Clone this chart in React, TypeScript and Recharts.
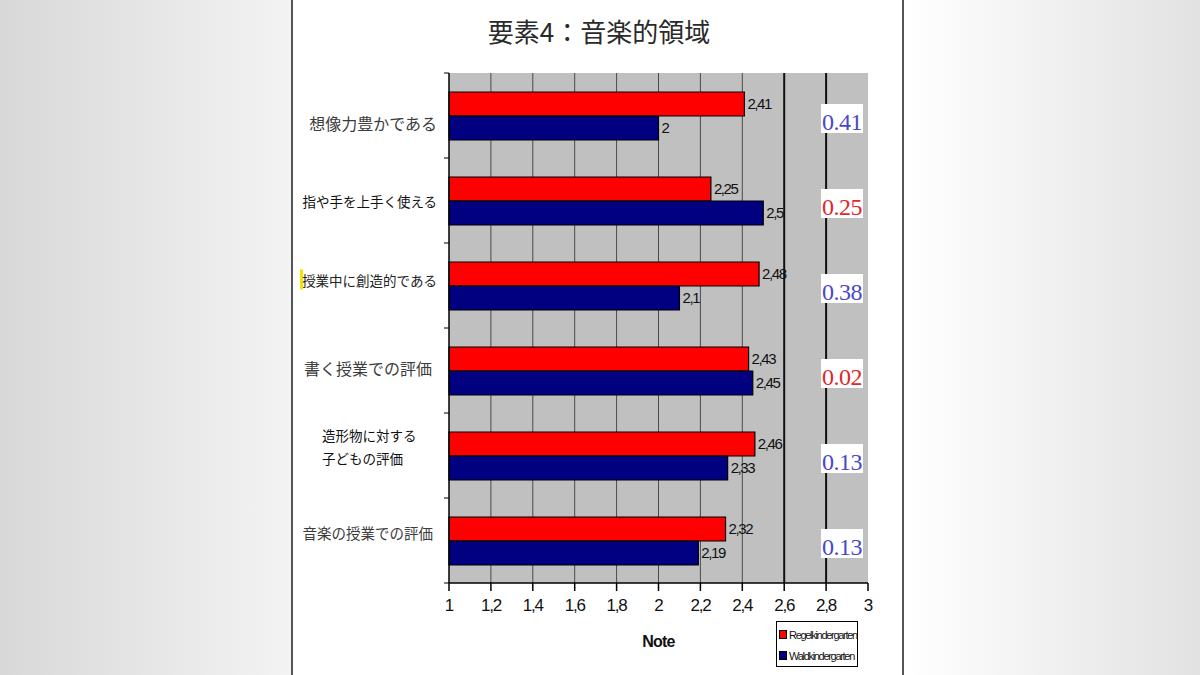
import { Bar, BarChart, CartesianGrid, LabelList, Legend, XAxis, YAxis, usePlotArea } from 'recharts';

// 要素4：音楽的領域 — Regelkindergarten vs Waldkindergarten
const categories = [
    '想像力豊かである',
    '指や手を上手く使える',
    '授業中に創造的である',
    '書く授業での評価',
    '造形物に対する\n子どもの評価',
    '音楽の授業での評価',
];
const regelValues = [2.41, 2.25, 2.48, 2.43, 2.46, 2.32];
const waldValues = [2, 2.5, 2.1, 2.45, 2.33, 2.19];
const diffValues = [0.41, 0.25, 0.38, 0.02, 0.13, 0.13];
const xTicks = [1, 1.2, 1.4, 1.6, 1.8, 2, 2.2, 2.4, 2.6, 2.8, 3];
const seriesNames = ['Regelkindergarten', 'Waldkindergarten'];
const seriesColors = ['#ff0000', '#000080'];

const data = categories.map((category, i) => ({
    category,
    regel: regelValues[i],
    wald: waldValues[i],
}));

// the slide labels were typed by hand, so each one sits a little differently
const labelLook = [
    { size: 16, color: '#3c3c3c', right: 12, dy: 7 },
    { size: 13.5, color: '#111', right: 12, dy: 0 },
    { size: 13.5, color: '#222', right: 12, dy: -6, marker: true },
    { size: 16, color: '#3c3c3c', right: 17, dy: -3 },
    { size: 13.5, color: '#111', left: 127, dy: -21, lineGap: 23 },
    { size: 14.5, color: '#3c3c3c', right: 16, dy: -8 },
];

const halfBand = 42.5;
const jpFont = '"Noto Sans CJK JP", "Noto Sans", sans-serif';
const narrowFont = '"Liberation Sans Narrow", "Liberation Sans", Arial, sans-serif';

const commaNumber = (v: number) => String(v).replace('.', ',');

function CategoryTick(props: any) {
    const { x, y, index, payload } = props;
    const look = labelLook[index];
    const lines = String(payload.value).split('\n');
    const anchor = look.left ? 'start' : 'end';
    const tx = look.left ? x - look.left : x - look.right;
    return (
        <g>
            <line x1={x - 5} x2={x} y1={y - halfBand} y2={y - halfBand} stroke="#000" />
            {index === categories.length - 1 && (
                <line x1={x - 5} x2={x} y1={y + halfBand} y2={y + halfBand} stroke="#000" />
            )}
            {look.marker && <rect x={x - 149} y={y - 16} width={3} height={20} fill="#f5e400" />}
            {lines.map((line, i) => (
                <text key={i} x={tx} y={y + look.dy + i * (look.lineGap || 0)}
                    textAnchor={anchor} dominantBaseline="central"
                    fontFamily={jpFont} fontSize={look.size} fill={look.color}>
                    {line}
                </text>
            ))}
        </g>
    );
}

// difference boxes at the right edge of the plot, one per category
function DiffLabel(props: any) {
    const { y, index } = props;
    const plot = usePlotArea();
    if (!plot) return null;
    const right = plot.x + plot.width;
    // blue when the regular kindergarten scored higher, red otherwise
    const color = regelValues[index] >= waldValues[index] ? '#4848cc' : '#e02828';
    return (
        <g>
            <rect x={right - 47} y={y - 12} width={42} height={29} fill="#fff" />
            <text x={right - 26} y={y + 6} textAnchor="middle" dominantBaseline="central"
                fontFamily='"Liberation Serif", "DejaVu Serif", serif' fontSize={24}
                letterSpacing={-0.5} fill={color}>
                {diffValues[index].toFixed(2)}
            </text>
        </g>
    );
}

function LegendBox() {
    return (
        <div style={{ border: '1.5px solid #000', background: '#fff', padding: '4px 2px', boxSizing: 'border-box',
            height: 46, overflow: 'hidden' }}>
            {seriesNames.map((name, i) => (
                <div key={name} style={{ display: 'flex', alignItems: 'center', height: 17, marginBottom: i === 0 ? 4 : 0 }}>
                    <span style={{ display: 'inline-block', width: 6, height: 7, background: seriesColors[i],
                        border: '0.5px solid #000', marginRight: 2, flexShrink: 0 }} />
                    <span style={{ fontFamily: narrowFont, fontSize: 11, letterSpacing: -1.3, color: '#111', whiteSpace: 'nowrap' }}>{name}</span>
                </div>
            ))}
        </div>
    );
}

export default function App() {
    return (
        <div style={{ position: 'absolute', left: 0, top: 0, width: 1200, height: 675, overflow: 'hidden',
            background: 'linear-gradient(to right, #d8d8d8 0px, #f3f3f3 290px, #ffffff 905px, #e2e2e2 1200px)' }}>
            <div style={{ position: 'absolute', left: 291, top: 0, width: 609, height: 675, background: '#fff',
                borderLeft: '2px solid #555', borderRight: '2px solid #555' }} />
            <div style={{ position: 'absolute', left: 0, top: 11, width: 1198, textAlign: 'center',
                fontFamily: jpFont, fontSize: 26, lineHeight: '40px', color: '#2a2a2a' }}>
                要素4：音楽的領域
            </div>
            <div style={{ position: 'absolute', left: 0, top: 0 }}>
                <BarChart width={1200} height={675} data={data} layout="vertical"
                    margin={{ top: 73, right: 332, bottom: 22, left: 289 }}
                    barGap={0} barSize={24}>
                    <CartesianGrid horizontal={false} verticalValues={[1.2, 1.4, 1.6, 1.8, 2, 2.2, 2.4]}
                        stroke="#4a4a4a" fill="#c0c0c0" fillOpacity={1} />
                    <CartesianGrid horizontal={false} verticalValues={[2.6, 2.8]}
                        stroke="#111" strokeWidth={2} fill="none" />
                    <XAxis type="number" domain={[1, 3]} ticks={xTicks} height={70}
                        tickFormatter={commaNumber} interval={0}
                        axisLine={{ stroke: '#000', strokeWidth: 1.5 }} tickLine={{ stroke: '#000', strokeWidth: 1.5 }}
                        tickSize={8} tickMargin={8}
                        tick={{ fontFamily: narrowFont, fontSize: 17, fill: '#111', letterSpacing: -1.2 }}
                        label={{ value: 'Note', position: 'insideBottom', offset: 6,
                            style: { fontFamily: narrowFont, fontSize: 16, fontWeight: 'bold', fill: '#111', letterSpacing: -0.8 } }} />
                    <YAxis type="category" dataKey="category" width={160}
                        axisLine={{ stroke: '#000', strokeWidth: 1.5 }} tickLine={false}
                        tickSize={0} tickMargin={0} tick={<CategoryTick />} />
                    <Bar dataKey="regel" name={seriesNames[0]} fill={seriesColors[0]} stroke="#000"
                        strokeWidth={1.2} isAnimationActive={false}>
                        <LabelList dataKey="regel" position="right" offset={3} formatter={commaNumber}
                            style={{ fontFamily: narrowFont, fontSize: 15, fill: '#111', letterSpacing: -1.4 }} />
                    </Bar>
                    <Bar dataKey="wald" name={seriesNames[1]} fill={seriesColors[1]} stroke="#000"
                        strokeWidth={1.2} isAnimationActive={false}>
                        <LabelList dataKey="wald" position="right" offset={3} formatter={commaNumber}
                            style={{ fontFamily: narrowFont, fontSize: 15, fill: '#111', letterSpacing: -1.4 }} />
                        <LabelList dataKey="wald" content={<DiffLabel />} />
                    </Bar>
                    <Legend layout="vertical" align="center" verticalAlign="middle"
                        wrapperStyle={{ left: 776, top: 621, width: 82, height: 46 }}
                        content={<LegendBox />} />
                </BarChart>
            </div>
        </div>
    );
}
